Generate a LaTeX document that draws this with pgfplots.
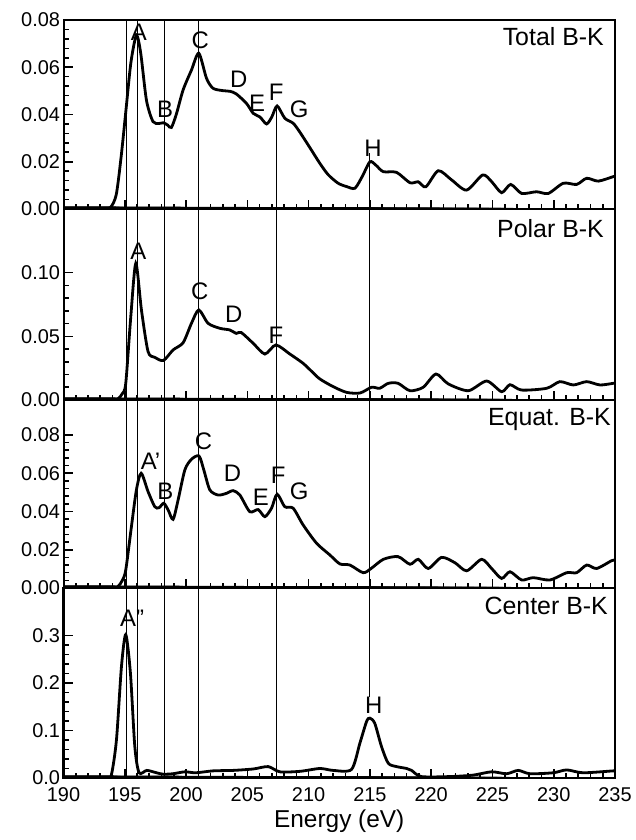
\documentclass[border=0pt]{standalone}
\usepackage{fontspec}
\setmainfont{Liberation Sans}
\usepackage{pgfplots}
\pgfplotsset{compat=1.18}

\pgfplotstableread{
x y
190 0
193.0 0
193.8 0.0005
194.3 0.006
194.7 0.022
195.08 0.041
195.5 0.062
195.95 0.0735
196.3 0.066
196.77 0.046
197.3 0.037
197.8 0.0362
198.15 0.0365
198.5 0.0355
198.8 0.0345
199.2 0.040
199.76 0.0504
200.44 0.0588
201.04 0.0659
201.67 0.0553
202.2 0.0511
203.0 0.0501
203.6 0.0498
204.1 0.0487
204.93 0.0447
205.48 0.0405
206.02 0.039
206.57 0.036
207.0 0.039
207.43 0.0436
208.06 0.0384
208.74 0.0363
209.29 0.0325
210.1 0.026
210.92 0.0193
211.6 0.0145
212.41 0.0109
213.1 0.0095
213.78 0.0088
214.4 0.014
215.0 0.020
215.5 0.0185
216.09 0.0158
217.18 0.0155
218.27 0.0111
218.95 0.0115
219.57 0.0094
220.58 0.0162
221.67 0.0123
222.89 0.008
224.2 0.0144
224.93 0.0116
225.75 0.0069
226.49 0.0104
227.38 0.0066
228.6 0.0073
229.56 0.0066
230.78 0.0109
231.87 0.0104
232.69 0.013
233.64 0.0118
234.86 0.0137
235 0.0137
}\totaldata

\pgfplotstableread{
x y
190 0
194.0 0
194.45 0.001
194.8 0.005
195.08 0.0131
195.49 0.0654
195.9 0.1073
196.36 0.0707
196.9 0.038
197.45 0.0335
198.15 0.031
198.94 0.0393
199.76 0.045
200.44 0.0602
201.04 0.0707
201.8 0.0602
202.76 0.0563
203.57 0.055
204.1 0.0523
204.5 0.053
205.48 0.0445
206.43 0.0361
207.33 0.0432
208.47 0.0361
209.55 0.0288
210.3 0.022
210.92 0.0165
212.0 0.0105
213.1 0.006
214.2 0.0055
215.14 0.010
215.8 0.0092
216.5 0.0131
217.3 0.0131
218.27 0.0073
219.35 0.010
220.39 0.0204
221.4 0.0126
223.03 0.0073
224.53 0.0149
225.75 0.0065
226.43 0.012
227.38 0.0078
229.43 0.0092
230.5 0.0144
231.6 0.0118
232.69 0.0144
233.78 0.0118
234.86 0.0131
235 0.0131
}\polardata

\pgfplotstableread{
x y
190 0
194.0 0
194.45 0.0008
194.8 0.004
195.08 0.0094
195.54 0.032
195.95 0.0513
196.34 0.060
196.9 0.0504
197.45 0.0425
197.8 0.042
198.18 0.0443
198.54 0.0408
198.94 0.0359
199.35 0.046
199.9 0.0617
200.44 0.0673
201.06 0.069
201.45 0.0617
201.94 0.0513
202.62 0.0486
203.3 0.0495
203.84 0.0509
204.39 0.0486
205.2 0.0399
205.88 0.041
206.43 0.0373
206.97 0.0417
207.43 0.049
208.06 0.0425
208.74 0.0417
209.55 0.033
210.65 0.0234
211.73 0.0173
212.55 0.0126
213.37 0.012
214.45 0.008
215.1 0.0102
216.1 0.015
217.3 0.0164
218.27 0.0124
218.95 0.015
219.76 0.0102
220.85 0.016
221.94 0.0132
222.9 0.009
224.12 0.015
224.93 0.0102
225.75 0.005
226.43 0.0085
227.38 0.0042
228.33 0.0054
229.69 0.0042
231.06 0.008
231.87 0.008
232.69 0.012
233.5 0.0102
234.73 0.0143
235 0.0145
}\equatdata

\pgfplotstableread{
x y
190 0.001
193.5 0.001
193.9 0.006
194.32 0.080
194.73 0.235
195.08 0.302
195.46 0.221
195.82 0.066
196.17 0.011
196.8 0.016
197.59 0.011
198.15 0.008
198.94 0.009
199.9 0.013
200.8 0.011
202.2 0.015
203.84 0.016
205.48 0.019
206.7 0.024
207.65 0.013
209.29 0.014
210.92 0.020
212.0 0.016
213.5 0.018
214.18 0.073
214.73 0.119
215.0 0.126
215.4 0.115
215.95 0.066
216.5 0.031
217.18 0.024
218.0 0.020
218.4 0.016
219.2 0.003
221.5 0.003
223.4 0.006
224.93 0.013
226.16 0.009
227.1 0.016
228.06 0.009
229.96 0.011
231.06 0.017
232.4 0.011
234.86 0.015
235 0.015
}\centerdata

\pgfplotsset{
  panel/.style={
    scale only axis, width=551.5bp,
    xmin=190, xmax=235,
    xtick={190,195,...,235}, minor x tick num=4, minor y tick num=4,
    tick align=inside, xtick pos=lower, ytick pos=left,
    axis line style={line width=2bp},
    major tick length=9bp, minor tick length=5bp,
    tick style={black, line width=1.6bp},
    tick label style={font=\fontsize{20}{24}\selectfont},
    scaled y ticks=false,
    /pgf/number format/assume math mode=true,
    anchor=south west,
  },
  ytwo/.style={yticklabel style={/pgf/number format/fixed, /pgf/number format/fixed zerofill, /pgf/number format/precision=2}},
  yone/.style={yticklabel style={/pgf/number format/fixed, /pgf/number format/fixed zerofill, /pgf/number format/precision=1}},
}
\tikzset{
  curve/.style={black, line width=2.8bp, smooth, tension=0.45},
  vl/.style={black, line width=0.9bp},
  mtk/.style={black, line width=1.6bp},
  pk/.style={font=\fontsize{24}{28}\selectfont, inner sep=0pt},
  pl/.style={font=\fontsize{25}{29}\selectfont, inner sep=0pt, anchor=north east},
}
\newcommand{\xtk}{%
  \pgfplotsinvokeforeach{191,...,234}{\draw[mtk] (axis cs:##1,0) -- ++(0,5bp);}%
  \pgfplotsinvokeforeach{195,200,...,230}{\draw[mtk] (axis cs:##1,0) -- ++(0,9bp);}%
}
\newcommand{\ytk}[2]{%
  \pgfplotsinvokeforeach{#1}{\draw[mtk] (axis cs:190,##1) -- ++(5bp,0);}%
  \pgfplotsinvokeforeach{#2}{\draw[mtk] (axis cs:190,##1) -- ++(9bp,0);}%
}

\begin{document}
\begin{tikzpicture}
\path (0,0) rectangle (636bp,840bp);

% Total
\begin{axis}[panel, ytwo, at={(63.5bp,631bp)}, height=189bp, ymin=0, ymax=0.08,
  ytick={0,0.02,0.04,0.06,0.08}, xticklabels={}]
\addplot[curve, no markers] table[x=x,y=y] {\totaldata};
\xtk
\ytk{0.004,0.008,0.012,0.016,0.024,0.028,0.032,0.036,0.044,0.048,0.052,0.056,0.064,0.068,0.072,0.076}{0.02,0.04,0.06}
\draw[vl] (axis cs:195.1,0) -- (axis cs:195.1,0.08);
\draw[vl] (axis cs:196.0,0) -- (axis cs:196.0,0.08);
\draw[vl] (axis cs:198.2,0) -- (axis cs:198.2,0.08);
\draw[vl] (axis cs:201.0,0) -- (axis cs:201.0,0.08);
\draw[vl] (axis cs:207.4,0) -- (axis cs:207.4,0.043);
\draw[vl] (axis cs:215.0,0) -- (axis cs:215.0,0.0235);
\node[pk] at (axis cs:196.15,0.0749) {A};
\node[pk] at (axis cs:198.29,0.0422) {B};
\node[pk] at (axis cs:201.15,0.0713) {C};
\node[pk] at (axis cs:204.31,0.0548) {D};
\node[pk] at (axis cs:205.8,0.0447) {E};
\node[pk] at (axis cs:207.35,0.0494) {F};
\node[pk] at (axis cs:209.23,0.0422) {G};
\node[pk] at (axis cs:215.25,0.0259) {H};
\node[pl] at ([xshift=-11bp,yshift=-7bp]rel axis cs:1,1) {Total B-K};
\end{axis}

% Polar
\begin{axis}[panel, ytwo, at={(63.5bp,440bp)}, height=191bp, ymin=0, ymax=0.15,
  ytick={0,0.05,0.10}, xticklabels={}]
\addplot[curve, no markers] table[x=x,y=y] {\polardata};
\xtk
\ytk{0.01,0.02,0.03,0.04,0.06,0.07,0.08,0.09,0.11,0.12,0.13,0.14}{0.05,0.10}
\draw[vl] (axis cs:195.1,0) -- (axis cs:195.1,0.15);
\draw[vl] (axis cs:196.0,0) -- (axis cs:196.0,0.15);
\draw[vl] (axis cs:198.2,0) -- (axis cs:198.2,0.15);
\draw[vl] (axis cs:201.0,0) -- (axis cs:201.0,0.15);
\draw[vl] (axis cs:207.4,0) -- (axis cs:207.4,0.15);
\draw[vl] (axis cs:215.0,0) -- (axis cs:215.0,0.15);
\node[pk] at (axis cs:196.1,0.117) {A};
\node[pk] at (axis cs:201.12,0.0854) {C};
\node[pk] at (axis cs:203.9,0.0677) {D};
\node[pk] at (axis cs:207.33,0.0505) {F};
\node[pl] at ([xshift=-11bp,yshift=-10bp]rel axis cs:1,1) {Polar B-K};
\end{axis}

% Equat
\begin{axis}[panel, ytwo, at={(63.5bp,252bp)}, height=188bp, ymin=0, ymax=0.0983,
  ytick={0,0.02,0.04,0.06,0.08}, xticklabels={}]
\addplot[curve, no markers] table[x=x,y=y] {\equatdata};
\xtk
\ytk{0.004,0.008,0.012,0.016,0.024,0.028,0.032,0.036,0.044,0.048,0.052,0.056,0.064,0.068,0.072,0.076,0.084,0.088,0.092,0.096}{0.02,0.04,0.06,0.08}
\draw[vl] (axis cs:195.1,0) -- (axis cs:195.1,0.0983);
\draw[vl] (axis cs:196.0,0) -- (axis cs:196.0,0.0983);
\draw[vl] (axis cs:198.2,0) -- (axis cs:198.2,0.0983);
\draw[vl] (axis cs:201.0,0) -- (axis cs:201.0,0.0983);
\draw[vl] (axis cs:207.4,0) -- (axis cs:207.4,0.0983);
\draw[vl] (axis cs:215.0,0) -- (axis cs:215.0,0.0983);
\node[pk] at (axis cs:197.1,0.066) {A'};
\node[pk] at (axis cs:198.32,0.0504) {B};
\node[pk] at (axis cs:201.42,0.0765) {C};
\node[pk] at (axis cs:203.79,0.060) {D};
\node[pk] at (axis cs:206.1,0.0476) {E};
\node[pk] at (axis cs:207.52,0.0591) {F};
\node[pk] at (axis cs:209.23,0.0504) {G};
\node[pl] at ([xshift=-4bp,yshift=-8bp]rel axis cs:1,1) {Equat. B-K};
\end{axis}

% Center
\begin{axis}[panel, yone, at={(63.5bp,62bp)}, height=190bp, ymin=0, ymax=0.4,
  ytick={0,0.1,0.2,0.3},
  xticklabel style={yshift=-6bp},
  xlabel={Energy (eV)},
  xlabel style={font=\fontsize{24.5}{28}\selectfont, yshift=-1bp}]
\addplot[curve, no markers] table[x=x,y=y] {\centerdata};
\xtk
\ytk{0.02,0.04,0.06,0.08,0.12,0.14,0.16,0.18,0.22,0.24,0.26,0.28,0.32,0.34,0.36,0.38}{0.1,0.2,0.3}
\draw[vl] (axis cs:195.1,0) -- (axis cs:195.1,0.4);
\draw[vl] (axis cs:196.0,0) -- (axis cs:196.0,0.4);
\draw[vl] (axis cs:198.2,0) -- (axis cs:198.2,0.4);
\draw[vl] (axis cs:201.0,0) -- (axis cs:201.0,0.4);
\draw[vl] (axis cs:207.4,0) -- (axis cs:207.4,0.4);
\draw[vl] (axis cs:215.0,0.171) -- (axis cs:215.0,0.4);
\node[pk] at (axis cs:195.6,0.336) {A''};
\node[pk] at (axis cs:215.31,0.153) {H};
\node[pl] at ([xshift=-7bp,yshift=-9bp]rel axis cs:1,1) {Center B-K};
\end{axis}
\end{tikzpicture}
\end{document}
